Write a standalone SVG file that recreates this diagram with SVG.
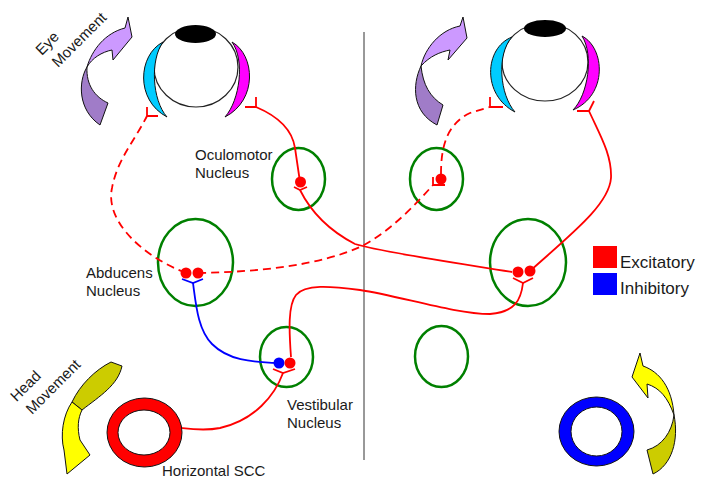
<svg xmlns="http://www.w3.org/2000/svg" width="710" height="478" viewBox="0 0 710 478">
<style>
  text { font-family: "Liberation Sans", Arial, sans-serif; fill: #1a1a1a; }
  .lbl { font-size: 15px; }
  .leg { font-size: 17px; }
  .nuc { fill: none; stroke: #008000; stroke-width: 2.5; }
  .exc { fill: none; stroke: #ff0000; stroke-width: 1.8; }
  .dash { stroke-dasharray: 8 5; }
  .inh { fill: none; stroke: #0000ff; stroke-width: 1.8; }
  .cellE { fill: #ff0000; }
  .cellI { fill: #0000ff; }
  .outl { stroke: #111; stroke-width: 1; }
  .ball { fill: #fff; stroke: #222; stroke-width: 1.2; }
</style>

<!-- midline -->
<line x1="364" y1="32" x2="364" y2="460" stroke="#333" stroke-width="1"/>

<!-- left eye -->
<g id="eye-left">
  <ellipse class="ball" cx="196" cy="67" rx="42" ry="40"/>
  <ellipse cx="195.5" cy="34" rx="20.5" ry="9" fill="#000"/>
  <path class="outl" fill="#00ccff" d="M163,42 C138,55 135,100 167,117 C152,100 150,60 163,42 Z"/>
  <path class="outl" fill="#ff00ff" d="M232,42 C255,55 258,100 225,117 C240,100 245,60 232,42 Z"/>
</g>

<!-- right eye -->
<g id="eye-right">
  <ellipse class="ball" cx="545" cy="62" rx="43" ry="39"/>
  <ellipse cx="545" cy="28.5" rx="21" ry="8.5" fill="#000"/>
  <path class="outl" fill="#00ccff" d="M512,37 C484,48 482,95 515,112 C500,95 496,55 512,37 Z"/>
  <path class="outl" fill="#ff00ff" d="M582,36 C605,48 608,95 573,110 C588,95 594,55 582,36 Z"/>
</g>

<!-- eye movement arrows -->
<g id="eye-arrow-left">
  <path class="outl" fill="#cc99ff" d="M87,67 C92,50 105,33 125,28 L128,17 L132,37 L113,60 L112,50 C102,52 92,58 87,67 Z"/>
  <path class="outl" fill="#a07cc8" d="M87,67 C78,82 78,110 100,125 L108,103 C95,97 86,85 87,67 Z"/>
</g>
<g id="eye-arrow-right">
  <path class="outl" fill="#cc99ff" d="M421,66 C425,48 440,30 460,26 L463,17 L467,38 L448,60 L450,50 C440,52 430,56 421,66 Z"/>
  <path class="outl" fill="#a07cc8" d="M421,66 C412,85 412,112 437,125 L443,105 C430,97 423,85 421,66 Z"/>
</g>

<!-- head movement arrows -->
<g id="head-arrow-left">
  <path class="outl" fill="#cccc00" d="M111,362 L122,366 C118,385 100,396 82,410 L72,402 C80,385 95,370 111,362 Z"/>
  <path class="outl" fill="#ffff00" d="M72,402 C63,415 60,435 64,450 L67,474 L90,455 L80,440 C77,428 78,418 82,410 Z"/>
</g>
<g id="head-arrow-right">
  <path class="outl" fill="#ffff00" d="M640,353 L643,366 C660,372 672,388 674,415 C668,398 660,388 647,384 L648,398 L632,377 Z"/>
  <path class="outl" fill="#cccc00" d="M674,415 C679,440 672,465 653,474 L647,450 C662,446 672,432 674,415 Z"/>
</g>

<!-- semicircular canals -->
<g id="scc-left">
  <path fill="#ff0000" fill-rule="evenodd" stroke="#111" stroke-width="1"
        d="M107,432.5 a37.5,34.5 0 1,0 75,0 a37.5,34.5 0 1,0 -75,0 Z M118,432.5 a26,22.5 0 1,0 52,0 a26,22.5 0 1,0 -52,0 Z"/>
</g>
<g id="scc-right">
  <path fill="#0000ff" fill-rule="evenodd" stroke="#111" stroke-width="1"
        d="M559,431.5 a37.5,34.5 0 1,0 75,0 a37.5,34.5 0 1,0 -75,0 Z M571,431.5 a25.5,24.5 0 1,0 51,0 a25.5,24.5 0 1,0 -51,0 Z"/>
</g>

<!-- nuclei -->
<g id="oculomotor-left"><ellipse class="nuc" cx="298.5" cy="179" rx="26.5" ry="31"/><circle class="cellE" cx="300.5" cy="182" r="5.5"/></g>
<g id="oculomotor-right"><ellipse class="nuc" cx="436.5" cy="179" rx="26.5" ry="31"/><circle class="cellE" cx="441" cy="179" r="5.5"/></g>
<g id="abducens-left"><ellipse class="nuc" cx="195.5" cy="262.5" rx="37.5" ry="43.5"/><circle class="cellE" cx="186" cy="273" r="5.5"/><circle class="cellE" cx="198" cy="273" r="5.5"/></g>
<g id="abducens-right"><ellipse class="nuc" cx="528" cy="262.5" rx="38" ry="43.5"/><circle class="cellE" cx="518" cy="272" r="5.5"/><circle class="cellE" cx="530" cy="271" r="5.5"/></g>
<g id="vestibular-left"><ellipse class="nuc" cx="286.5" cy="357" rx="26.5" ry="30"/><circle class="cellI" cx="279" cy="363" r="5.5"/><circle class="cellE" cx="290" cy="363" r="5.5"/></g>
<g id="vestibular-right"><ellipse class="nuc" cx="441.5" cy="356.5" rx="26.5" ry="30.5"/></g>

<!-- connectors -->
<g id="connectors">
  <!-- left abducens to left lateral rectus -->
  <path class="exc dash" d="M186,273 C140,255 105,220 112,188 C117,160 135,140 147,116"/>
  <path class="exc" d="M147,107 L147,116 L158,116"/>
  <!-- left oculomotor to left medial rectus -->
  <path class="exc" d="M300,182 L295,148 C292,128 275,115 256,107"/>
  <path class="exc" d="M256,97 L256,107 L245,107"/>
  <!-- right abducens interneuron to left oculomotor -->
  <path class="exc" d="M512,272 C470,265 380,252 355,244 C328,230 310,210 300,190"/>
  <path class="exc" d="M294,187 L300,190 L307,187"/>
  <!-- right abducens to right lateral rectus -->
  <path class="exc" d="M530,271 C570,235 609,205 611,178 C612,155 600,135 589,111"/>
  <path class="exc" d="M577,111 L589,111 L594,101"/>
  <!-- left vestibular to right abducens -->
  <path class="exc" d="M291,357 C289,330 288,305 296,295 C305,284 330,286 360,290 C400,296 455,314 490,314 C515,312 521,300 523,283"/>
  <path class="exc" d="M513,278 L523,283 L533,278"/>
  <!-- left abducens interneuron to right oculomotor -->
  <path class="exc dash" d="M198,273 C260,272 320,265 360,247 C390,232 415,205 433,185"/>
  <path class="exc" d="M433,177 L433,185 L445,185"/>
  <!-- right oculomotor to right medial rectus -->
  <path class="exc dash" d="M441,174 C441,150 445,125 470,113 L490,107"/>
  <path class="exc" d="M490,97 L490,107 L503,107"/>
  <!-- inhibitory vestibular input to left abducens -->
  <path class="inh" d="M279,363 C250,362 228,360 212,344 C198,330 196,305 193,283"/>
  <path class="inh" d="M182,279 L193,283 L203,279"/>
  <!-- canal afferent to left vestibular -->
  <path class="exc" d="M182,428 C190,429 205,431 220,428 C255,420 275,395 283,373"/>
  <path class="exc" d="M273,369 L283,373 L295,369"/>
</g>

<!-- labels -->
<g id="labels">
  <g transform="translate(58,68) rotate(-45)">
    <text class="lbl" x="-3" y="-20">Eye</text>
    <text class="lbl" x="0" y="0">Movement</text>
  </g>
  <g transform="translate(32,415) rotate(-45)">
    <text class="lbl" x="-2" y="-20">Head</text>
    <text class="lbl" x="0" y="0">Movement</text>
  </g>
  <text class="lbl" x="195" y="160">Oculomotor</text>
  <text class="lbl" x="195" y="178">Nucleus</text>
  <text class="lbl" x="86" y="278">Abducens</text>
  <text class="lbl" x="86" y="296">Nucleus</text>
  <text class="lbl" x="287" y="410">Vestibular</text>
  <text class="lbl" x="287" y="428">Nucleus</text>
  <text class="lbl" x="162" y="476">Horizontal SCC</text>
</g>

<!-- legend -->
<g id="legend">
  <rect x="593" y="246" width="24" height="22" fill="#ff0000"/>
  <rect x="593" y="273" width="24" height="22" fill="#0000ff"/>
  <text class="leg" x="620" y="268">Excitatory</text>
  <text class="leg" x="620" y="294">Inhibitory</text>
</g>
</svg>
